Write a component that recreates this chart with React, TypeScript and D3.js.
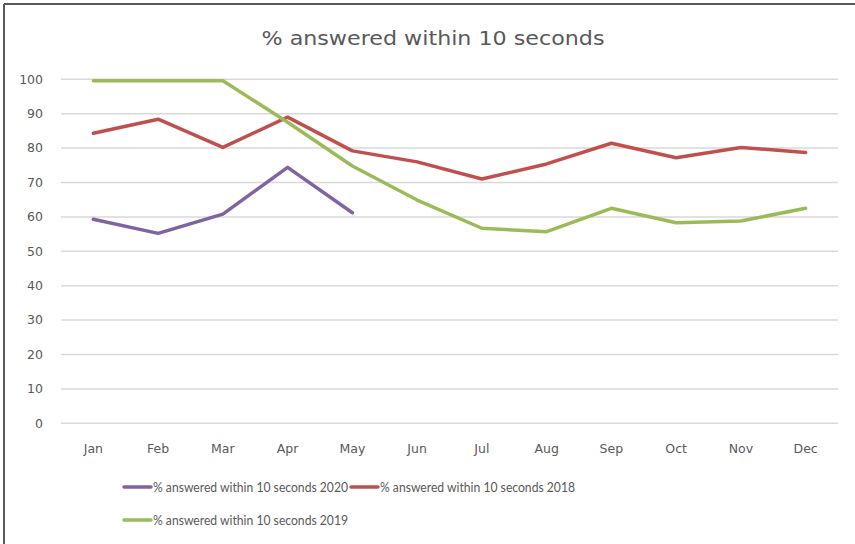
import React from "react";
import * as d3 from "d3";

const months = ["Jan","Feb","Mar","Apr","May","Jun","Jul","Aug","Sep","Oct","Nov","Dec"];
const yTicks = [0,10,20,30,40,50,60,70,80,90,100];
const values2020 = [59.3,55.2,60.8,74.4,61.2];
const values2018 = [84.3,88.4,80.2,89,79.2,76,71,75.4,81.4,77.2,80.2,78.7];
const values2019 = [99.6,99.6,99.6,87.5,74.8,64.9,56.7,55.7,62.5,58.3,58.8,62.5];
const seriesNames = ["% answered within 10 seconds 2020","% answered within 10 seconds 2018","% answered within 10 seconds 2019"];
const seriesColors = ["#8064A2","#C0504D","#9BBB59"];
const title = "% answered within 10 seconds";

const W = 855, H = 544;
const titleFont = "'DejaVu Sans', sans-serif";
const tickFont = "'DejaVu Sans', sans-serif";
const legendFont = "Lato, 'Open Sans', sans-serif";

export default function App() {
  const x = d3.scaleBand<string>().domain(months).range([61, 838]);
  const y = d3.scaleLinear().domain([0, 100]).range([423.3, 79.3]);
  const line = d3.line<number>()
    .x((_, i) => (x(months[i]) as number) + x.bandwidth() / 2)
    .y(d => y(d));
  const series = [values2020, values2018, values2019];
  const legend = [
    { i: 0, lx: 122, ly: 487 },
    { i: 1, lx: 349, ly: 487 },
    { i: 2, lx: 122, ly: 520 },
  ];
  return (
    <svg width={W} height={H} style={{ position: "absolute", left: 0, top: 0, background: "#fff" }}>
      <rect x={0} y={0} width={W} height={H} fill="#fff" />
      <line x1={4} y1={4} x2={W} y2={4} stroke="#595959" strokeWidth={2} />
      <line x1={4} y1={4} x2={4} y2={H} stroke="#595959" strokeWidth={2} />
      <text x={433} y={45} textAnchor="middle" fontFamily={titleFont} fontSize={19} fill="#595959" textLength={343} lengthAdjust="spacingAndGlyphs">{title}</text>
      {yTicks.map(t => (
        <g key={t}>
          <line x1={61} x2={838} y1={y(t)} y2={y(t)} stroke="#D9D9D9" strokeWidth={1.5} />
          <text x={43} y={y(t)} dy="0.35em" textAnchor="end" fontFamily={tickFont} fontSize={12.5} fill="#595959">{t}</text>
        </g>
      ))}
      {months.map(m => (
        <text key={m} x={(x(m) as number) + x.bandwidth() / 2} y={449} dy="0.35em" textAnchor="middle" fontFamily={tickFont} fontSize={12.5} fill="#595959">{m}</text>
      ))}
      {series.map((s, i) => (
        <path key={i} d={line(s) || ""} fill="none" stroke={seriesColors[i]} strokeWidth={3.5} strokeLinejoin="round" strokeLinecap="round" />
      ))}
      {legend.map(l => (
        <g key={l.i}>
          <line x1={l.lx + 2} x2={l.lx + 29} y1={l.ly} y2={l.ly} stroke={seriesColors[l.i]} strokeWidth={3.5} strokeLinecap="round" />
          <text x={l.lx + 31} y={l.ly} dy="0.35em" fontFamily={legendFont} fontSize={13} fill="#595959" textLength={195} lengthAdjust="spacingAndGlyphs">{seriesNames[l.i]}</text>
        </g>
      ))}
    </svg>
  );
}
